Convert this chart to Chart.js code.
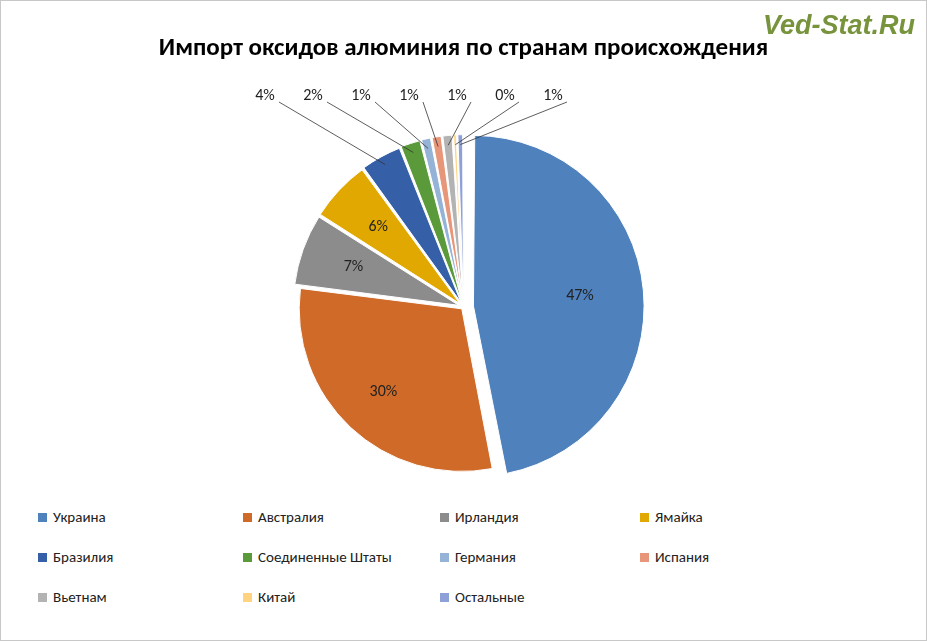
<!DOCTYPE html>
<html>
<head>
  <title>Импорт оксидов алюминия</title>
  <script src="https://cdn.jsdelivr.net/npm/chart.js"></script>
  <style>
    body { margin: 0; width: 927px; height: 641px; background: #fff; font-family: Calibri, Carlito, "Liberation Sans", sans-serif; position: relative; overflow: hidden; }
    #frame { position: absolute; left: 0; top: 0; width: 925px; height: 639px; border: 1px solid #c8c8c8; }
    #pie { position: absolute; left: 0; top: 0; }
    #mark { position: absolute; right: 12px; top: 10px; color: #77933c; font: italic bold 27px "Liberation Sans", sans-serif; }
    #legend { position: absolute; left: 38px; top: 508px; display: grid; grid-template-columns: 205px 197px 200px 200px; row-gap: 22px; font-size: 15px; color: #222; }
    #legend span.box { display: inline-block; width: 9px; height: 9px; margin-right: 6px; }
  </style>
</head>
<body>
  <div id="frame"></div>
  <canvas id="pie" width="927" height="495"></canvas>
  <div id="mark">Ved-Stat.Ru</div>
  <div id="legend"></div>
  <script>
    const countries = ['Украина', 'Австралия', 'Ирландия', 'Ямайка', 'Бразилия', 'Соединенные Штаты', 'Германия', 'Испания', 'Вьетнам', 'Китай', 'Остальные'];
    const shares = [47, 30, 7, 6, 4, 2, 1, 1, 1, 0.4, 0.6];
    const shareLabels = ['47%', '30%', '7%', '6%', '4%', '2%', '1%', '1%', '1%', '0%', '1%'];
    const colors = ['#4f81bd', '#d06a28', '#8c8c8c', '#e0a800', '#3560a8', '#5a9a3a', '#95b3d7', '#e8967a', '#b3b3b3', '#ffd37f', '#8ea0d8'];

    const legend = document.getElementById('legend');
    countries.forEach((c, i) => {
      const d = document.createElement('div');
      d.innerHTML = '<span class="box" style="background:' + colors[i] + '"></span>' + c;
      legend.appendChild(d);
    });

    // draws percentage labels inside big slices and on a row above for small ones
    const pctLabels = {
      id: 'pctLabels',
      afterDatasetsDraw(chart) {
        const ctx = chart.ctx;
        ctx.save();
        ctx.font = '16px Carlito, "Liberation Sans", sans-serif';
        ctx.fillStyle = '#222';
        ctx.textAlign = 'center';
        ctx.textBaseline = 'middle';
        const small = [];
        chart.getDatasetMeta(0).data.forEach((arc, i) => {
          const p = arc.getProps(['x', 'y', 'startAngle', 'endAngle', 'outerRadius']);
          const mid = (p.startAngle + p.endAngle) / 2;
          if (shares[i] > 5) {
            const r = p.outerRadius * 0.72;
            ctx.fillText(shareLabels[i], p.x + Math.cos(mid) * r, p.y + Math.sin(mid) * r);
          } else {
            small.push([i, p, mid]);
          }
        });
        small.forEach(([i, p, mid], k) => {
          const ax = p.x + Math.cos(mid) * p.outerRadius, ay = p.y + Math.sin(mid) * p.outerRadius;
          const lx = 265 + k * 48, ly = 96;
          ctx.strokeStyle = '#333';
          ctx.lineWidth = 0.8;
          ctx.beginPath(); ctx.moveTo(ax, ay); ctx.lineTo(lx + 14, ly + 6); ctx.stroke();
          ctx.fillText(shareLabels[i], lx, ly);
        });
        ctx.restore();
      }
    };

    new Chart(document.getElementById('pie'), {
      type: 'pie',
      data: {
        labels: countries,
        datasets: [{
          data: shares,
          backgroundColor: colors,
          borderColor: '#fff',
          borderWidth: 1,
          offset: [40, 10, 20, 20, 20, 20, 20, 20, 20, 20, 20]
        }]
      },
      options: {
        responsive: false,
        animation: false,
        layout: { padding: { top: 0, bottom: 5, left: 20, right: 20 } },
        plugins: {
          legend: { display: false },
          tooltip: { enabled: false },
          title: {
            display: true,
            text: 'Импорт оксидов алюминия по странам происхождения',
            font: { size: 25, weight: 'bold', family: 'Carlito, "Liberation Sans", sans-serif' },
            color: '#000',
            padding: { top: 34, bottom: 60 }
          }
        }
      },
      plugins: [pctLabels]
    });
  </script>
</body>
</html>
